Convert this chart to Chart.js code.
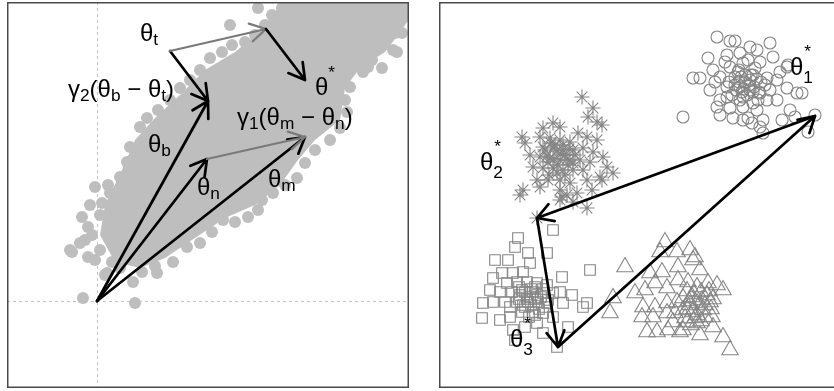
<!DOCTYPE html>
<html>
<head>
<meta charset="utf-8">
<script src="https://cdn.jsdelivr.net/npm/chart.js@4.4.1/dist/chart.umd.min.js"></script>
<style>
  html, body { margin: 0; padding: 0; background: #fff; width: 834px; height: 391px; overflow: hidden; }
  body { position: relative; }
  canvas { position: absolute; }
  #left { left: 7px; top: 2px; }
  #right { left: 439px; top: 2px; }
</style>
</head>
<body>
<canvas id="left" width="402" height="386"></canvas>
<canvas id="right" width="397" height="386"></canvas>
<script>
// ---------- Left panel: samples along an elongated posterior ----------
// dense core of the sample cloud (outline)
const bandCore = [[18,39],[3,66],[8,96],[25,131],[38,161],[58,183],[83,206],[108,231],[138,249],[165,271],[181,293],[193,302],[315,302],[315,286],[301,266],[288,249],[263,233],[248,213],[243,181],[218,161],[201,141],[183,116],[158,96],[128,83],[98,63],[68,43],[43,33],[18,39]];
// individual samples around the core
const bandSamples = [
  [-2,114],[-15,84],[-25,49],[-17,58],[-9,74],[5,98],[13,108],[23,124],[30,139],[33,154],[43,174],[50,183],[61,191],[73,201],[83,213],[93,221],[103,231],[113,243],[125,249],[135,256],[148,259],[158,266],[168,276],[175,286],[185,293],[161,293],[133,276],[-27,51],[-14,3],[38,-2],[8,26],[36,19],[45,29],[-9,44],[-5,66],[3,51],[15,39],[28,46],
  [10,28],[23,33],[58,35],[76,39],[90,54],[103,58],[115,69],[126,81],[138,79],[151,84],[161,91],[165,101],[176,108],[188,116],[200,123],[208,138],[218,151],[233,161],[243,173],[250,189],[248,201],[253,214],[266,229],[271,234],[285,233],[296,251],[298,268],[305,268],[300,249],[275,241],[311,289],[203,296],
  [11,116],[3,86],[-7,96],[-12,61],[-2,41],[60,28]
];
// named parameter vectors
const origin = [0, 0];
const thetaB = [111, 200];
const thetaN = [110, 142];
const thetaM = [208, 164];
const thetaT = [73, 250];
const thetaTshift = [169, 272];
const thetaStar = [208, 221];

const leftArrows = [
  [origin, thetaB, 'black'], [origin, thetaN, 'black'], [origin, thetaM, 'black'],
  [thetaT, thetaB, 'black'], [thetaT, thetaTshift, 'gray'], [thetaTshift, thetaStar, 'black'],
  [thetaN, thetaM, 'gray']
];
const leftLabels = [
  { at: [43, 260],  parts: [['θ'], ['t', 'sub']] },
  { at: [-29, 204], parts: [['γ'], ['2', 'sub'], ['('], ['θ'], ['b', 'sub'], [' − '], ['θ'], ['t', 'sub'], [')']] },
  { at: [51, 149],  parts: [['θ'], ['b', 'sub']] },
  { at: [218, 206], parts: [['θ'], ['*', 'sup']] },
  { at: [140, 176], parts: [['γ'], ['1', 'sub'], ['('], ['θ'], ['m', 'sub'], [' − '], ['θ'], ['n', 'sub'], [')']] },
  { at: [100, 106], parts: [['θ'], ['n', 'sub']] },
  { at: [171, 114], parts: [['θ'], ['m', 'sub']] }
];

// ---------- Right panel: four clusters and the cycle between their modes ----------
const circlePts = [[278,350],[291,346],[296,346],[331,344],[311,340],[318,337],[269,329],[288,332],[301,334],[334,330],[348,320],[274,317],[291,320],[304,324],[321,325],[254,309],[261,309],[281,310],[296,310],[306,312],[314,312],[328,309],[338,307],[348,299],[358,294],[288,300],[301,300],[311,297],[321,294],[331,297],[281,287],[288,290],[301,287],[314,284],[328,287],[338,287],[278,280],[291,279],[304,280],[318,277],[281,272],[294,269],[304,267],[313,264],[324,267],[321,260],[343,267],[244,270],[376,272],[369,255],[324,254],[356,270],[363,294],[349,322],[309,269],[296,302],[306,305],[311,307],[299,315],[316,319],[286,325],[326,302],[303,295],[293,292],[271,297],[276,305],[341,315],[351,277],[309,327],[319,287],
  [300,305],[305,298],[310,302],[315,300],[318,308],[302,310],[308,292],[312,312],[297,297],[320,295],[304,290],[314,295],[322,305],[290,305],[300,317]];
const starPts = [[143,290],[154,279],[149,270],[158,265],[163,262],[114,264],[121,260],[104,259],[83,250],[86,244],[139,254],[148,250],[158,247],[101,250],[111,249],[121,247],[131,245],[104,240],[114,239],[124,237],[134,237],[144,239],[154,235],[164,230],[91,232],[101,230],[111,229],[121,227],[131,227],[141,227],[151,225],[168,220],[174,214],[94,220],[104,219],[114,219],[124,217],[134,217],[144,217],[161,210],[98,207],[109,207],[121,207],[131,204],[148,207],[84,197],[81,192],[101,200],[121,197],[128,192],[138,194],[153,197],[121,187],[134,185],[148,179],[98,169],[163,207],[123,190],[116,242],[126,232],[109,225],[119,222],[129,222],[106,237],
  [112,244],[118,236],[124,242],[130,238],[136,232],[108,231],[115,228],[122,233],[128,228],[134,224],[118,214],[126,212],[110,212]];
const squarePts = [[114,157],[79,149],[76,140],[89,134],[108,134],[56,127],[69,127],[91,124],[151,117],[123,110],[54,109],[63,114],[74,114],[84,115],[98,104],[108,102],[88,105],[78,105],[68,104],[51,97],[61,95],[73,95],[83,97],[94,95],[104,94],[114,94],[121,95],[133,92],[44,84],[54,85],[66,85],[78,85],[89,85],[99,85],[109,87],[124,84],[144,80],[148,84],[43,69],[61,67],[71,70],[83,75],[94,75],[104,74],[114,70],[129,60],[74,57],[86,60],[98,64],[104,54],[76,47],[118,40],[81,92],[91,90],[86,80],[96,100],[106,80],[71,80],
  [80,100],[86,95],[92,98],[98,92],[104,98],[80,88],[88,88],[96,88],[102,90],[84,82],[92,82],[100,78],[108,84],[90,70],[96,72]];
const trianglePts = [[226,145],[221,135],[238,135],[251,137],[256,130],[186,120],[211,114],[223,115],[239,120],[254,127],[261,117],[269,104],[278,102],[284,97],[196,94],[206,97],[216,104],[228,99],[239,107],[249,105],[258,100],[174,89],[204,80],[216,80],[228,84],[238,85],[244,89],[253,90],[263,87],[271,85],[171,74],[203,70],[214,70],[228,74],[236,74],[244,77],[254,75],[264,77],[273,70],[234,65],[248,65],[258,64],[208,55],[218,55],[241,55],[261,52],[274,60],[284,50],[291,37],[229,57],[244,57],[251,82],[256,69],[246,69],
  [248,96],[255,93],[262,95],[268,92],[250,86],[258,84],[266,82],[272,78],[248,78],[258,72],[266,70],[252,62],[262,66],[274,88],[270,96]];

const theta1 = [376, 271];
const theta2 = [98, 169];
const theta3 = [119, 40];
const rightArrows = [[theta1, theta2, 'black'], [theta2, theta3, 'black'], [theta3, theta1, 'black']];
const rightLabels = [
  { at: [351, 312], parts: [['θ'], ['*', 'sup2'], ['1', 'sub2']] },
  { at: [41, 217],  parts: [['θ'], ['*', 'sup2'], ['2', 'sub2']] },
  { at: [71, 40],   parts: [['θ'], ['*', 'sup2'], ['3', 'sub2']] }
];

// ---------- drawing helpers ----------
const FONT = '"Liberation Sans", Arial, Helvetica, sans-serif';
const BASE = 24;
const toXY = arr => arr.map(([x, y]) => ({ x, y }));

function drawArrow(ctx, x1, y1, x2, y2, color) {
  const w = color === 'gray' ? 2.3 : 2.7;
  const head = 18, spread = Math.PI / 6;
  const a = Math.atan2(y2 - y1, x2 - x1);
  ctx.save();
  ctx.strokeStyle = color === 'gray' ? '#7a7a7a' : '#000';
  ctx.lineWidth = w;
  ctx.lineCap = 'round';
  ctx.lineJoin = 'round';
  ctx.beginPath();
  ctx.moveTo(x1, y1);
  ctx.lineTo(x2, y2);
  ctx.moveTo(x2 + head * Math.cos(a + Math.PI - spread), y2 + head * Math.sin(a + Math.PI - spread));
  ctx.lineTo(x2, y2);
  ctx.lineTo(x2 + head * Math.cos(a + Math.PI + spread), y2 + head * Math.sin(a + Math.PI + spread));
  ctx.stroke();
  ctx.restore();
}

function drawMath(ctx, x, y, parts) {
  let cx = x;
  ctx.save();
  ctx.fillStyle = '#000';
  ctx.textBaseline = 'alphabetic';
  ctx.textAlign = 'left';
  for (const [txt, kind] of parts) {
    let size = BASE, dy = 0, advance = true;
    if (kind === 'sub') { size = BASE * 0.72; dy = 4; }
    if (kind === 'sup') { size = BASE * 0.72; dy = -17; }
    if (kind === 'sup2') { size = BASE * 0.72; dy = -18; advance = false; }
    if (kind === 'sub2') { size = BASE * 0.72; dy = 8; }
    ctx.font = size + 'px ' + FONT;
    ctx.fillText(txt, cx + (kind === 'sup2' ? 1 : 0), y + dy);
    if (advance) cx += ctx.measureText(txt).width;
  }
  ctx.restore();
}

const decor = {
  id: 'decor',
  beforeDatasetsDraw(chart, args, opts) {
    if (!opts.crosshair) return;
    const { ctx, chartArea: a, scales: { x, y } } = chart;
    const px = Math.round(x.getPixelForValue(opts.crosshair[0])) + 0.5;
    const py = Math.round(y.getPixelForValue(opts.crosshair[1])) + 0.5;
    ctx.save();
    ctx.strokeStyle = '#c4c4c4';
    ctx.lineWidth = 1;
    ctx.setLineDash([3, 3]);
    ctx.beginPath();
    ctx.moveTo(px, a.top); ctx.lineTo(px, a.bottom);
    ctx.moveTo(a.left, py); ctx.lineTo(a.right, py);
    ctx.stroke();
    ctx.restore();
  },
  afterDatasetsDraw(chart, args, opts) {
    const { ctx, scales: { x, y } } = chart;
    for (const [from, to, color] of (opts.arrows || [])) {
      drawArrow(ctx, x.getPixelForValue(from[0]), y.getPixelForValue(from[1]),
                     x.getPixelForValue(to[0]), y.getPixelForValue(to[1]), color);
    }
    for (const lab of (opts.labels || [])) {
      drawMath(ctx, x.getPixelForValue(lab.at[0]), y.getPixelForValue(lab.at[1]), lab.parts);
    }
  },
  afterDraw(chart) {
    const { ctx, chartArea: a } = chart;
    ctx.save();
    ctx.strokeStyle = '#4a4a4a';
    ctx.lineWidth = 1.5;
    ctx.strokeRect(a.left + 0.75, a.top + 0.75, a.right - a.left - 1.5, a.bottom - a.top - 1.5);
    ctx.restore();
  }
};

function baseOptions(xr, yr, decorOpts) {
  return {
    responsive: false,
    animation: false,
    devicePixelRatio: 1,
    events: [],
    layout: { padding: 0, autoPadding: false },
    plugins: { legend: { display: false }, tooltip: { enabled: false }, decor: decorOpts },
    scales: {
      x: { type: 'linear', display: false, min: xr[0], max: xr[1] },
      y: { type: 'linear', display: false, min: yr[0], max: yr[1] }
    }
  };
}

const GREY_FILL = '#bebebe';
const GREY_LINE = '#858585';

new Chart(document.getElementById('left'), {
  type: 'scatter',
  data: {
    datasets: [
      { type: 'line', data: toXY(bandCore), fill: 'shape', backgroundColor: GREY_FILL,
        borderWidth: 0, borderColor: 'rgba(0,0,0,0)', pointRadius: 0, tension: 0 },
      { data: toXY(bandSamples), pointRadius: 6, pointStyle: 'circle',
        backgroundColor: GREY_FILL, borderWidth: 0 }
    ]
  },
  options: baseOptions([-90, 312], [-87, 299], { crosshair: origin, arrows: leftArrows, labels: leftLabels }),
  plugins: [decor]
});

const markerSet = (pts, style, r) => ({
  data: toXY(pts), pointStyle: style, pointRadius: r,
  backgroundColor: 'rgba(0,0,0,0)', borderColor: GREY_LINE, borderWidth: 1.1
});

new Chart(document.getElementById('right'), {
  type: 'scatter',
  data: {
    datasets: [
      markerSet(circlePts, 'circle', 6),
      markerSet(starPts, 'star', 7.5),
      markerSet(squarePts, 'rect', 7.5),
      markerSet(trianglePts, 'triangle', 9.5)
    ]
  },
  options: baseOptions([0, 397], [-1, 385], { arrows: rightArrows, labels: rightLabels }),
  plugins: [decor]
});
</script>
</body>
</html>
